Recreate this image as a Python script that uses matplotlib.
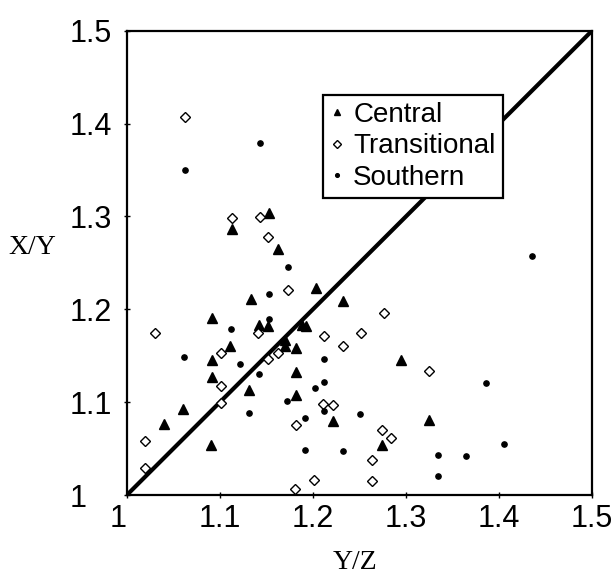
import matplotlib
matplotlib.use("Agg")
import matplotlib.pyplot as plt

# Central (filled triangles)
central_x = [1.113, 1.153, 1.162, 1.203, 1.133, 1.232, 1.092, 1.142, 1.152, 1.188,
             1.193, 1.111, 1.170, 1.170, 1.182, 1.091, 1.091, 1.182, 1.131, 1.182,
             1.060, 1.040, 1.090, 1.222, 1.295, 1.325, 1.274]
central_y = [1.287, 1.304, 1.265, 1.223, 1.211, 1.209, 1.191, 1.183, 1.182, 1.183,
             1.182, 1.161, 1.167, 1.161, 1.158, 1.145, 1.127, 1.132, 1.113, 1.108,
             1.093, 1.077, 1.054, 1.080, 1.145, 1.081, 1.054]

# Transitional (open diamonds)
trans_x = [1.062, 1.113, 1.143, 1.152, 1.173, 1.030, 1.141, 1.212, 1.252, 1.276,
           1.232, 1.101, 1.162, 1.152, 1.325, 1.101, 1.101, 1.211, 1.222, 1.182,
           1.274, 1.284, 1.020, 1.264, 1.020, 1.201, 1.264, 1.181]
trans_y = [1.407, 1.298, 1.299, 1.278, 1.221, 1.174, 1.174, 1.171, 1.174, 1.196,
           1.161, 1.153, 1.153, 1.146, 1.134, 1.117, 1.099, 1.098, 1.097, 1.075,
           1.070, 1.061, 1.058, 1.038, 1.029, 1.016, 1.015, 1.007]

# Southern (small dots)
south_x = [1.143, 1.063, 1.436, 1.173, 1.153, 1.153, 1.112, 1.061, 1.212, 1.122,
           1.142, 1.212, 1.386, 1.202, 1.172, 1.212, 1.131, 1.251, 1.192, 1.405,
           1.192, 1.232, 1.335, 1.365, 1.335]
south_y = [1.379, 1.350, 1.257, 1.246, 1.217, 1.190, 1.179, 1.149, 1.147, 1.141,
           1.130, 1.122, 1.121, 1.115, 1.101, 1.090, 1.088, 1.087, 1.083, 1.055,
           1.049, 1.047, 1.043, 1.042, 1.020]

ticks = [1, 1.1, 1.2, 1.3, 1.4, 1.5]
tick_labels = ["1", "1.1", "1.2", "1.3", "1.4", "1.5"]

plt.rcParams['font.family'] = ['Liberation Sans', 'DejaVu Sans']

fig = plt.figure(figsize=(6.16, 5.81), dpi=100)
ax = fig.add_axes([0.206, 0.148, 0.755, 0.799])

# 1:1 reference line
ax.plot([1, 1.5], [1, 1.5], color='black', linewidth=3, solid_capstyle='butt', zorder=1)

ax.plot(central_x, central_y, linestyle='none', marker='^', markersize=7,
        color='black', label='Central', zorder=3)
ax.plot(trans_x, trans_y, linestyle='none', marker='D', markersize=5.3,
        markerfacecolor='white', markeredgecolor='black', markeredgewidth=1.0,
        label='Transitional', zorder=3)
ax.plot(south_x, south_y, linestyle='none', marker='o', markersize=3.8,
        color='black', label='Southern', zorder=3)

ax.set_xlim(1, 1.5)
ax.set_ylim(1, 1.5)
ax.set_xticks(ticks)
ax.set_xticklabels(tick_labels)
ax.set_yticks(ticks)
ax.set_yticklabels(tick_labels)
ax.tick_params(axis='both', direction='inout', length=5, width=1, labelsize=22)
ax.tick_params(axis='x', pad=4)
ax.tick_params(axis='y', pad=39)
for lab in ax.get_yticklabels():
    lab.set_horizontalalignment('left')
ax.get_xticklabels()[0].set_horizontalalignment('right')

for sp in ax.spines.values():
    sp.set_linewidth(1.6)

ax.set_xlabel('Y/Z', fontsize=20, family=['Liberation Serif', 'DejaVu Serif'])
ax.xaxis.set_label_coords(0.49, -0.118)
ax.set_ylabel('X/Y', fontsize=20, family=['Liberation Serif', 'DejaVu Serif'],
              rotation=0, va='center')
ax.yaxis.set_label_coords(-0.204, 0.534)

leg = ax.legend(loc='upper left', bbox_to_anchor=(0.421, 0.862), fontsize=20,
                frameon=True, fancybox=False, framealpha=1, edgecolor='black',
                handlelength=0.55, handletextpad=0.3, borderpad=0.25,
                labelspacing=0.2, borderaxespad=0, markerscale=0.7)
leg.get_frame().set_linewidth(1.6)
leg.set_zorder(5)

fig.savefig('out.png', dpi=100)
